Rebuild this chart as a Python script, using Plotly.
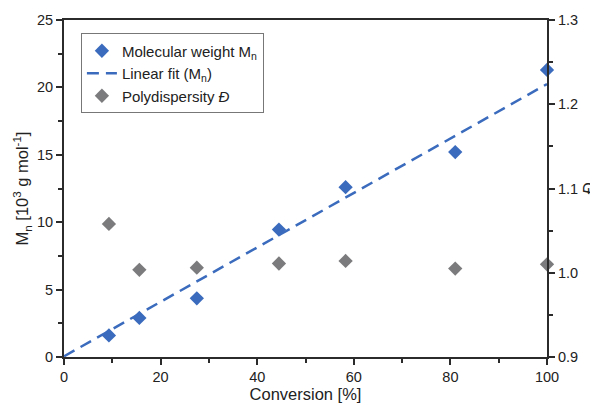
import plotly.graph_objects as go

conversion = [9.3, 15.6, 27.5, 44.5, 58.3, 81.0, 100.0]
mn = [1.6, 2.9, 4.35, 9.45, 12.6, 15.2, 21.3]
dispersity = [1.058, 1.0035, 1.006, 1.011, 1.014, 1.005, 1.010]
fit_slope = 0.202
fit_intercept = 0.05
fit_x = [0, 100]
fit_y = [fit_intercept + fit_slope * x for x in fit_x]

blue = "#3a6bbd"
gray = "#7b7b7d"
axcol = "#2b2b2b"
font = "Liberation Sans, Arial, sans-serif"

fig = go.Figure()
fig.add_trace(go.Scatter(x=conversion, y=mn, mode="markers", name="Molecular weight M<sub>n</sub>",
                         marker=dict(symbol="diamond", size=11, color=blue), cliponaxis=False))
fig.add_trace(go.Scatter(x=fit_x, y=fit_y, mode="lines", name="Linear fit (M<sub>n</sub>)",
                         line=dict(color=blue, width=2.5, dash="12px,7px")))
fig.add_trace(go.Scatter(x=conversion, y=dispersity, mode="markers", name="Polydispersity <i>Đ</i>",
                         marker=dict(symbol="diamond", size=11, color=gray), yaxis="y2", cliponaxis=False))

tickfont = dict(size=14.5, color="#222")
titlefont = dict(size=16.5, color="#222")

# page body has an 8px default margin, so figure is sized/margined to compensate
fig.update_layout(
    width=590, height=401,
    margin=dict(l=56, r=51, t=12, b=52, autoexpand=False),
    plot_bgcolor="white", paper_bgcolor="white",
    font=dict(family=font, size=14, color="#222"),
    showlegend=True,
    legend=dict(x=0.035, y=0.96, xanchor="left", yanchor="top",
                bordercolor="#777", borderwidth=1, bgcolor="white",
                font=dict(size=15, color="#222"), tracegroupgap=0, itemwidth=30),
    xaxis=dict(range=[0, 100], tickvals=[0, 20, 40, 60, 80, 100], ticks="outside", ticklen=6,
               tickwidth=1.5, tickcolor=axcol, showline=True, linecolor=axcol, linewidth=2,
               mirror=True, showgrid=False, zeroline=False, automargin=False, tickfont=tickfont,
               minor=dict(tickvals=[10, 30, 50, 70, 90], ticks="outside", ticklen=4, tickcolor=axcol, tickwidth=1.5),
               title=dict(text="Conversion [%]", font=titlefont, standoff=0)),
    yaxis=dict(range=[0, 25], tickvals=[0, 5, 10, 15, 20, 25], ticks="outside", ticklen=6,
               tickwidth=1.5, tickcolor=axcol, showline=True, linecolor=axcol, linewidth=2,
               showgrid=False, zeroline=False, automargin=False, tickfont=tickfont,
               minor=dict(tickvals=[2.5, 7.5, 12.5, 17.5, 22.5], ticks="outside", ticklen=4, tickcolor=axcol, tickwidth=1.5),
               title=dict(text="M<sub>n</sub> [10<sup>3</sup> g mol<sup>-1</sup>]", font=titlefont, standoff=4)),
    yaxis2=dict(range=[0.9, 1.3], tickvals=[0.9, 1.0, 1.1, 1.2, 1.3], ticktext=["0.9", "1.0", "1.1", "1.2", "1.3"],
                overlaying="y", side="right", ticks="outside", ticklen=6,
                tickwidth=1.5, tickcolor=axcol, showline=True, linecolor=axcol, linewidth=2,
                showgrid=False, zeroline=False, automargin=False, tickfont=tickfont,
                minor=dict(tickvals=[0.95, 1.05, 1.15, 1.25], ticks="outside", ticklen=4, tickcolor=axcol, tickwidth=1.5),
                title=dict(text="<i>Đ</i>", font=titlefont, standoff=14)),
)

fig.write_html("out.html")
